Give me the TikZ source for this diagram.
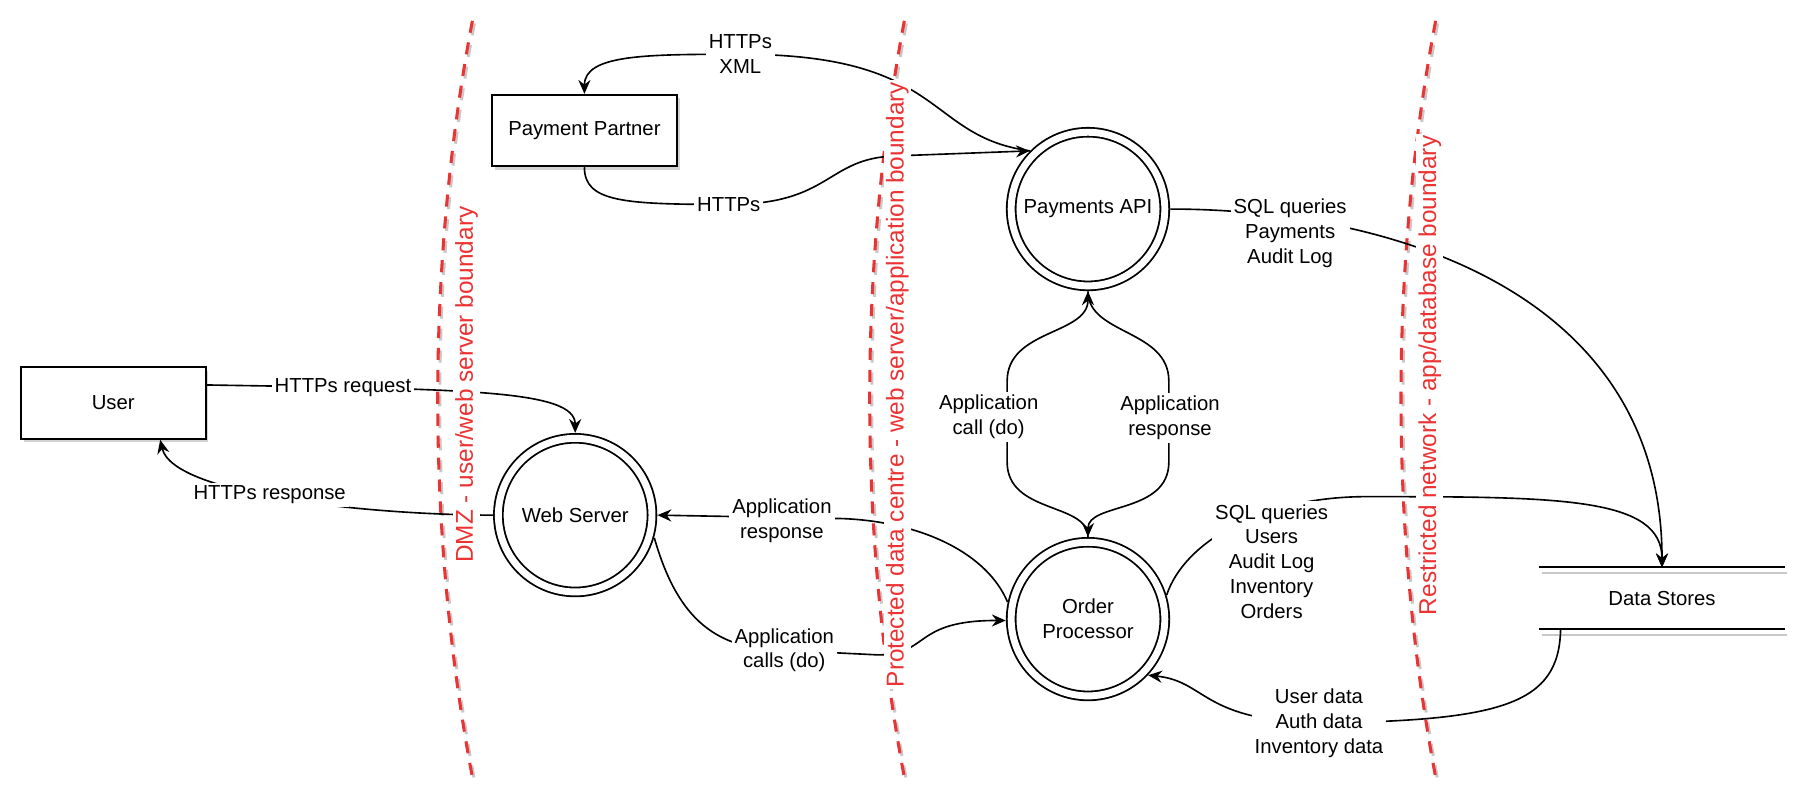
\documentclass[tikz,border=0pt]{standalone}
\usepackage{fontspec}
\setmainfont{Liberation Sans}
\usetikzlibrary{arrows.meta, shadows}
\definecolor{dfdred}{RGB}{235, 51, 51}
\definecolor{dfdshade}{RGB}{200, 200, 200}

\begin{document}
\begin{tikzpicture}[x=0.2mm, y=-0.2mm, font=\fontsize{10}{12.2}\selectfont,
    >={Stealth[length=2.4mm, width=2.1mm, inset=0.8mm]},
    every node/.style={align=center},
    entity/.style={draw, line width=0.9pt, fill=white, minimum width=32mm, minimum height=12.4mm,
                   drop shadow={opacity=0.35, shadow xshift=0.5mm, shadow yshift=-0.6mm}},
    process/.style={circle, draw, double, double distance=1.2mm, line width=0.9pt, fill=white,
                    minimum size=26.6mm, inner sep=0pt, outer sep=0.95mm},
    store/.style={minimum width=42.4mm, minimum height=10.6mm},
    flow/.style={->, line width=0.8pt},
    lbl/.style={fill=white, inner sep=1.5pt},
    boundary/.style={dfdred, line width=1.5pt, dash pattern=on 2.1mm off 1.7mm},
    zone/.style={text=dfdred, fill=white, rotate=90, inner sep=1pt, font=\fontsize{12}{14}\selectfont}]
  \useasboundingbox (0,0) rectangle (1568,693);

  \foreach \bx in {409, 783, 1243} {
    \draw[boundary, dfdshade, transform canvas={shift={(0.35mm,-0.45mm)}}]
      (\bx,18) .. controls (\bx-40,230) and (\bx-40,460) .. (\bx,673);
    \draw[boundary] (\bx,18) .. controls (\bx-40,230) and (\bx-40,460) .. (\bx,673);
  }

  \node[entity] (user) at (98,349) {User};
  \node[entity] (partner) at (506,113) {Payment Partner};
  \node[process] (payapi) at (942,181) {Payments API};
  \node[process] (websrv) at (498,446) {Web Server};
  \node[process] (orderproc) at (942,536) {Order\\Processor};
  \node[store] (datastore) at (1439,518) {Data Stores};
  \draw[dfdshade, line width=0.7pt] ([shift={(0.5mm,-1mm)}]datastore.north west) -- ([shift={(0.3mm,-1mm)}]datastore.north east)
                                    ([shift={(0.5mm,-1mm)}]datastore.south west) -- ([shift={(0.3mm,-1mm)}]datastore.south east);
  \draw[line width=0.9pt] (datastore.north west) -- (datastore.north east)
                          (datastore.south west) -- (datastore.south east);

  \draw[flow] (user.11) .. controls (400,337) and (498,337) .. (websrv.north)
        node[lbl, pos=0.2] {HTTPs request};
  \draw[flow] (websrv.west) .. controls (330,446) and (150,430) .. (user.-38)
        node[lbl, pos=0.55] {HTTPs response};
  \draw[flow] (partner.south) .. controls (506,175) and (540,177) .. (631,177) node[lbl] {HTTPs}
        .. controls (720,177) and (715,137) .. (775,135) -- (payapi.135);
  \draw[flow] (payapi.135) .. controls (800,118) and (820,47) .. (641,47) node[lbl] {HTTPs\\XML}
        .. controls (560,47) and (506,47) .. (partner.north);
  \draw[flow] (payapi.east) .. controls (1200,181) and (1439,250) .. (datastore.north)
        node[lbl] at (1117,202) {SQL queries\\Payments\\Audit Log};
  \draw[flow] (orderproc.17) .. controls (1025,470) and (1090,431) .. (1180,430)
        .. controls (1350,430) and (1439,430) .. (datastore.north)
        node[lbl] at (1101,486) {SQL queries\\Users\\Audit Log\\Inventory\\Orders};
  \draw[flow] (datastore.-163.5) .. controls (1350,610) and (1300,624) .. (1142,626)
        node[lbl] {User data\\Auth data\\Inventory data}
        .. controls (1040,624) and (1045,590) .. (orderproc.-43);
  \draw[flow] (orderproc.north) .. controls (942,435) and (872,445) .. (872,400) -- (872,330)
        .. controls (872,285) and (942,290) .. (payapi.south)
        node[lbl] at (856,361) {Application\\call (do)};
  \draw[flow] (payapi.south) .. controls (942,290) and (1012,285) .. (1012,330) -- (1012,400)
        .. controls (1012,445) and (942,435) .. (orderproc.north)
        node[lbl] at (1013,362) {Application\\response};
  \draw[flow] (orderproc.168) .. controls (855,480) and (800,452) .. (730,449) -- (websrv.east)
        node[lbl] at (677,451) {Application\\response};
  \draw[flow] (websrv.-16) .. controls (585,530) and (615,563) .. (679,563) node[lbl] {Application\\calls (do)}
        -- (760,567) .. controls (805,567) and (790,537) .. (orderproc.181);

  \node[zone] (dmz) at (404,333) {DMZ - user/web server boundary};
  \node[zone] (dc) at (777,333) {Protected data centre - web server/application boundary};
  \node[zone] (rn) at (1238,325) {Restricted network - app/database boundary};
\end{tikzpicture}
\end{document}
